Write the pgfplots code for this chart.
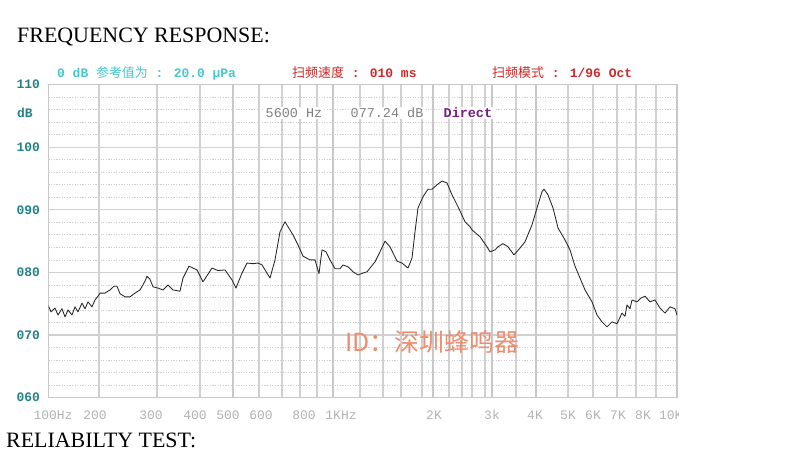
\documentclass[border=0pt]{standalone}
\usepackage{pgfplots}
\pgfplotsset{compat=1.18}
\usepackage{fontspec}
\setmainfont{Liberation Serif}
\newfontfamily\mono{Liberation Mono}
\newfontfamily\cjk{Noto Sans CJK SC}
\definecolor{hdrcyan}{RGB}{70,200,205}
\definecolor{hdrred}{RGB}{208,40,40}
\definecolor{ylab}{RGB}{35,130,135}
\definecolor{xlab}{RGB}{178,178,178}
\definecolor{gridc}{RGB}{208,208,208}
\definecolor{gridthick}{RGB}{200,200,200}
\definecolor{infogray}{RGB}{128,128,128}
\definecolor{infopurple}{RGB}{120,30,130}
\definecolor{wmark}{RGB}{238,140,110}
\begin{document}
\begin{tikzpicture}
\path[use as bounding box, fill=white] (0,0) rectangle (800bp,476bp);
% titles
\node[anchor=west, font=\fontsize{22}{24}\selectfont, inner sep=0] at (17bp,439bp) {FREQUENCY RESPONSE:};
\node[anchor=west, font=\fontsize{22}{24}\selectfont, inner sep=0] at (6bp,36bp) {RELIABILTY TEST:};
% header
\node[anchor=west, inner sep=0, text=hdrcyan, font=\fontsize{13}{15}\selectfont] at (57bp,403bp) {{\mono\bfseries 0 dB }{\cjk 参考值为}{\mono\bfseries\ : 20.0 μPa}};
\node[anchor=west, inner sep=0, text=hdrred, font=\fontsize{13}{15}\selectfont] at (292bp,403bp) {{\cjk 扫频速度}{\mono\bfseries\ : 010 ms}};
\node[anchor=west, inner sep=0, text=hdrred, font=\fontsize{13}{15}\selectfont] at (492bp,403bp) {{\cjk 扫频模式}{\mono\bfseries\ : 1/96 Oct}};
\begin{axis}[
  at={(48.5bp,78.4bp)}, anchor=south west,
  scale only axis, width=628.5bp, height=312.9bp,
  xmin=48.5, xmax=677, ymin=60, ymax=110,
  axis line style={draw=gridthick, line width=1.2bp},
  major tick length=0pt, minor tick length=0pt,
  xtick={99,157,200,259,282,300,317,360,383,401,422,449,462,472,485,516,568,593,617,636,656},
  xticklabels={},
  xmajorgrids=true,
  extra x ticks={233,333,433,492,536},
  extra x tick labels={},
  extra x tick style={grid=major, major grid style={draw=gridthick, line width=1.9bp}},
  ytick={60,70,80,90,100,110},
  yticklabels={060,070,080,090,100,110},
  minor y tick num=4,
  ymajorgrids=true, yminorgrids=true,
  major grid style={draw=gridc, line width=1.2bp},
  minor grid style={draw=gridc, line width=0.8bp, dash pattern=on 1.3bp off 1.3bp},
  yticklabel style={font=\mono\bfseries\fontsize{13}{15}\selectfont, text=ylab, anchor=east, xshift=-5bp},
]
\addplot[black!85, line width=0.85bp, line join=round] coordinates {
(48,74.8) (51,73.7) (55,74.3) (58,73.2) (62,74.2) (65,72.9) (68,74.0) (72,73.2)
(75,74.5) (78,73.7) (82,75.1) (85,74.2) (88,75.3) (92,74.5) (95,75.6) (98,76.2)
(100,76.7) (105,76.7) (110,77.2) (114,77.8) (117,77.8) (120,76.6) (125,76.1) (130,76.1)
(135,76.7) (140,77.2) (145,78.6) (147,79.4) (150,78.9) (153,77.7) (158,77.5) (163,77.2)
(168,78.0) (173,77.2) (180,77.0) (183,79.1) (189,81.0) (197,80.4) (203,78.5) (212,80.7)
(218,80.3) (225,80.4) (232,78.8) (236,77.5) (242,79.9) (247,81.5) (253,81.4) (258,81.5)
(262,81.2) (270,79.1) (275,82.0) (280,86.5) (285,88.1) (288,87.3) (293,86.0) (298,84.4)
(303,82.6) (310,82.0) (315,82.0) (319,79.8) (322,83.6) (326,83.3) (330,82.0) (335,80.6)
(340,80.6) (343,81.2) (348,80.9) (353,80.1) (358,79.6) (363,79.9) (367,80.1) (375,81.7)
(380,83.3) (385,85.0) (390,84.1) (397,81.8) (402,81.5) (408,80.7) (412,82.3) (415,86.5)
(418,90.3) (423,92.1) (428,93.3) (432,93.3) (437,94.0) (442,94.6) (447,94.3) (452,92.4)
(458,90.5) (465,88.1) (470,87.3) (472,86.8) (480,85.7) (487,84.1) (490,83.3) (495,83.6)
(498,84.1) (503,84.6) (508,84.1) (514,82.8) (520,83.9) (525,84.9) (532,87.6) (537,90.3)
(542,92.9) (544,93.3) (548,92.4) (553,90.3) (558,87.1) (565,85.2) (570,83.6) (575,81.0)
(580,79.1) (585,77.2) (592,75.3) (597,73.2) (602,72.1) (607,71.3) (612,72.1) (617,71.8)
(622,73.5) (625,73.0) (627,74.8) (630,74.2) (632,75.6) (637,75.3) (641,75.9) (645,76.2)
(650,75.3) (655,75.6) (660,74.3) (665,73.5) (670,74.5) (675,74.2) (677,73.2)
};
\end{axis}
% dB unit label
\node[anchor=west, inner sep=0, text=ylab, font=\mono\bfseries\fontsize{13}{15}\selectfont] at (17bp,363bp) {dB};
% info readout
\node[anchor=west, inner sep=1.5bp, fill=white, text=infogray, font=\mono\fontsize{13.5}{15}\selectfont] at (264bp,363bp) {5600 Hz};
\node[anchor=west, inner sep=1.5bp, fill=white, text=infogray, font=\mono\fontsize{13.5}{15}\selectfont] at (349bp,363bp) {077.24 dB};
\node[anchor=west, inner sep=1.5bp, fill=white, text=infopurple, font=\mono\bfseries\fontsize{13.5}{15}\selectfont] at (442bp,363bp) {Direct};
% x tick labels
\begin{scope}[every node/.style={inner sep=0, text=xlab, font=\mono\fontsize{13}{15}\selectfont}]
\clip (0,0) rectangle (678bp,476bp);
\node at (53bp,61bp) {100Hz};
\node at (95bp,61bp) {200};
\node at (151bp,61bp) {300};
\node at (195bp,61bp) {400};
\node at (228bp,61bp) {500};
\node at (261bp,61bp) {600};
\node at (304bp,61bp) {800};
\node at (341bp,61bp) {1KHz};
\node at (434bp,61bp) {2K};
\node at (492bp,61bp) {3k};
\node at (535bp,61bp) {4K};
\node at (568bp,61bp) {5K};
\node at (593bp,61bp) {6K};
\node at (618bp,61bp) {7K};
\node at (643bp,61bp) {8K};
\node[anchor=west] at (659bp,61bp) {10K};
\end{scope}
% watermark
\node[anchor=west, inner sep=0, text=wmark, font=\cjk\fontsize{25}{27}\selectfont] at (345bp,134bp) {ID：深圳蜂鸣器};
\end{tikzpicture}
\end{document}
